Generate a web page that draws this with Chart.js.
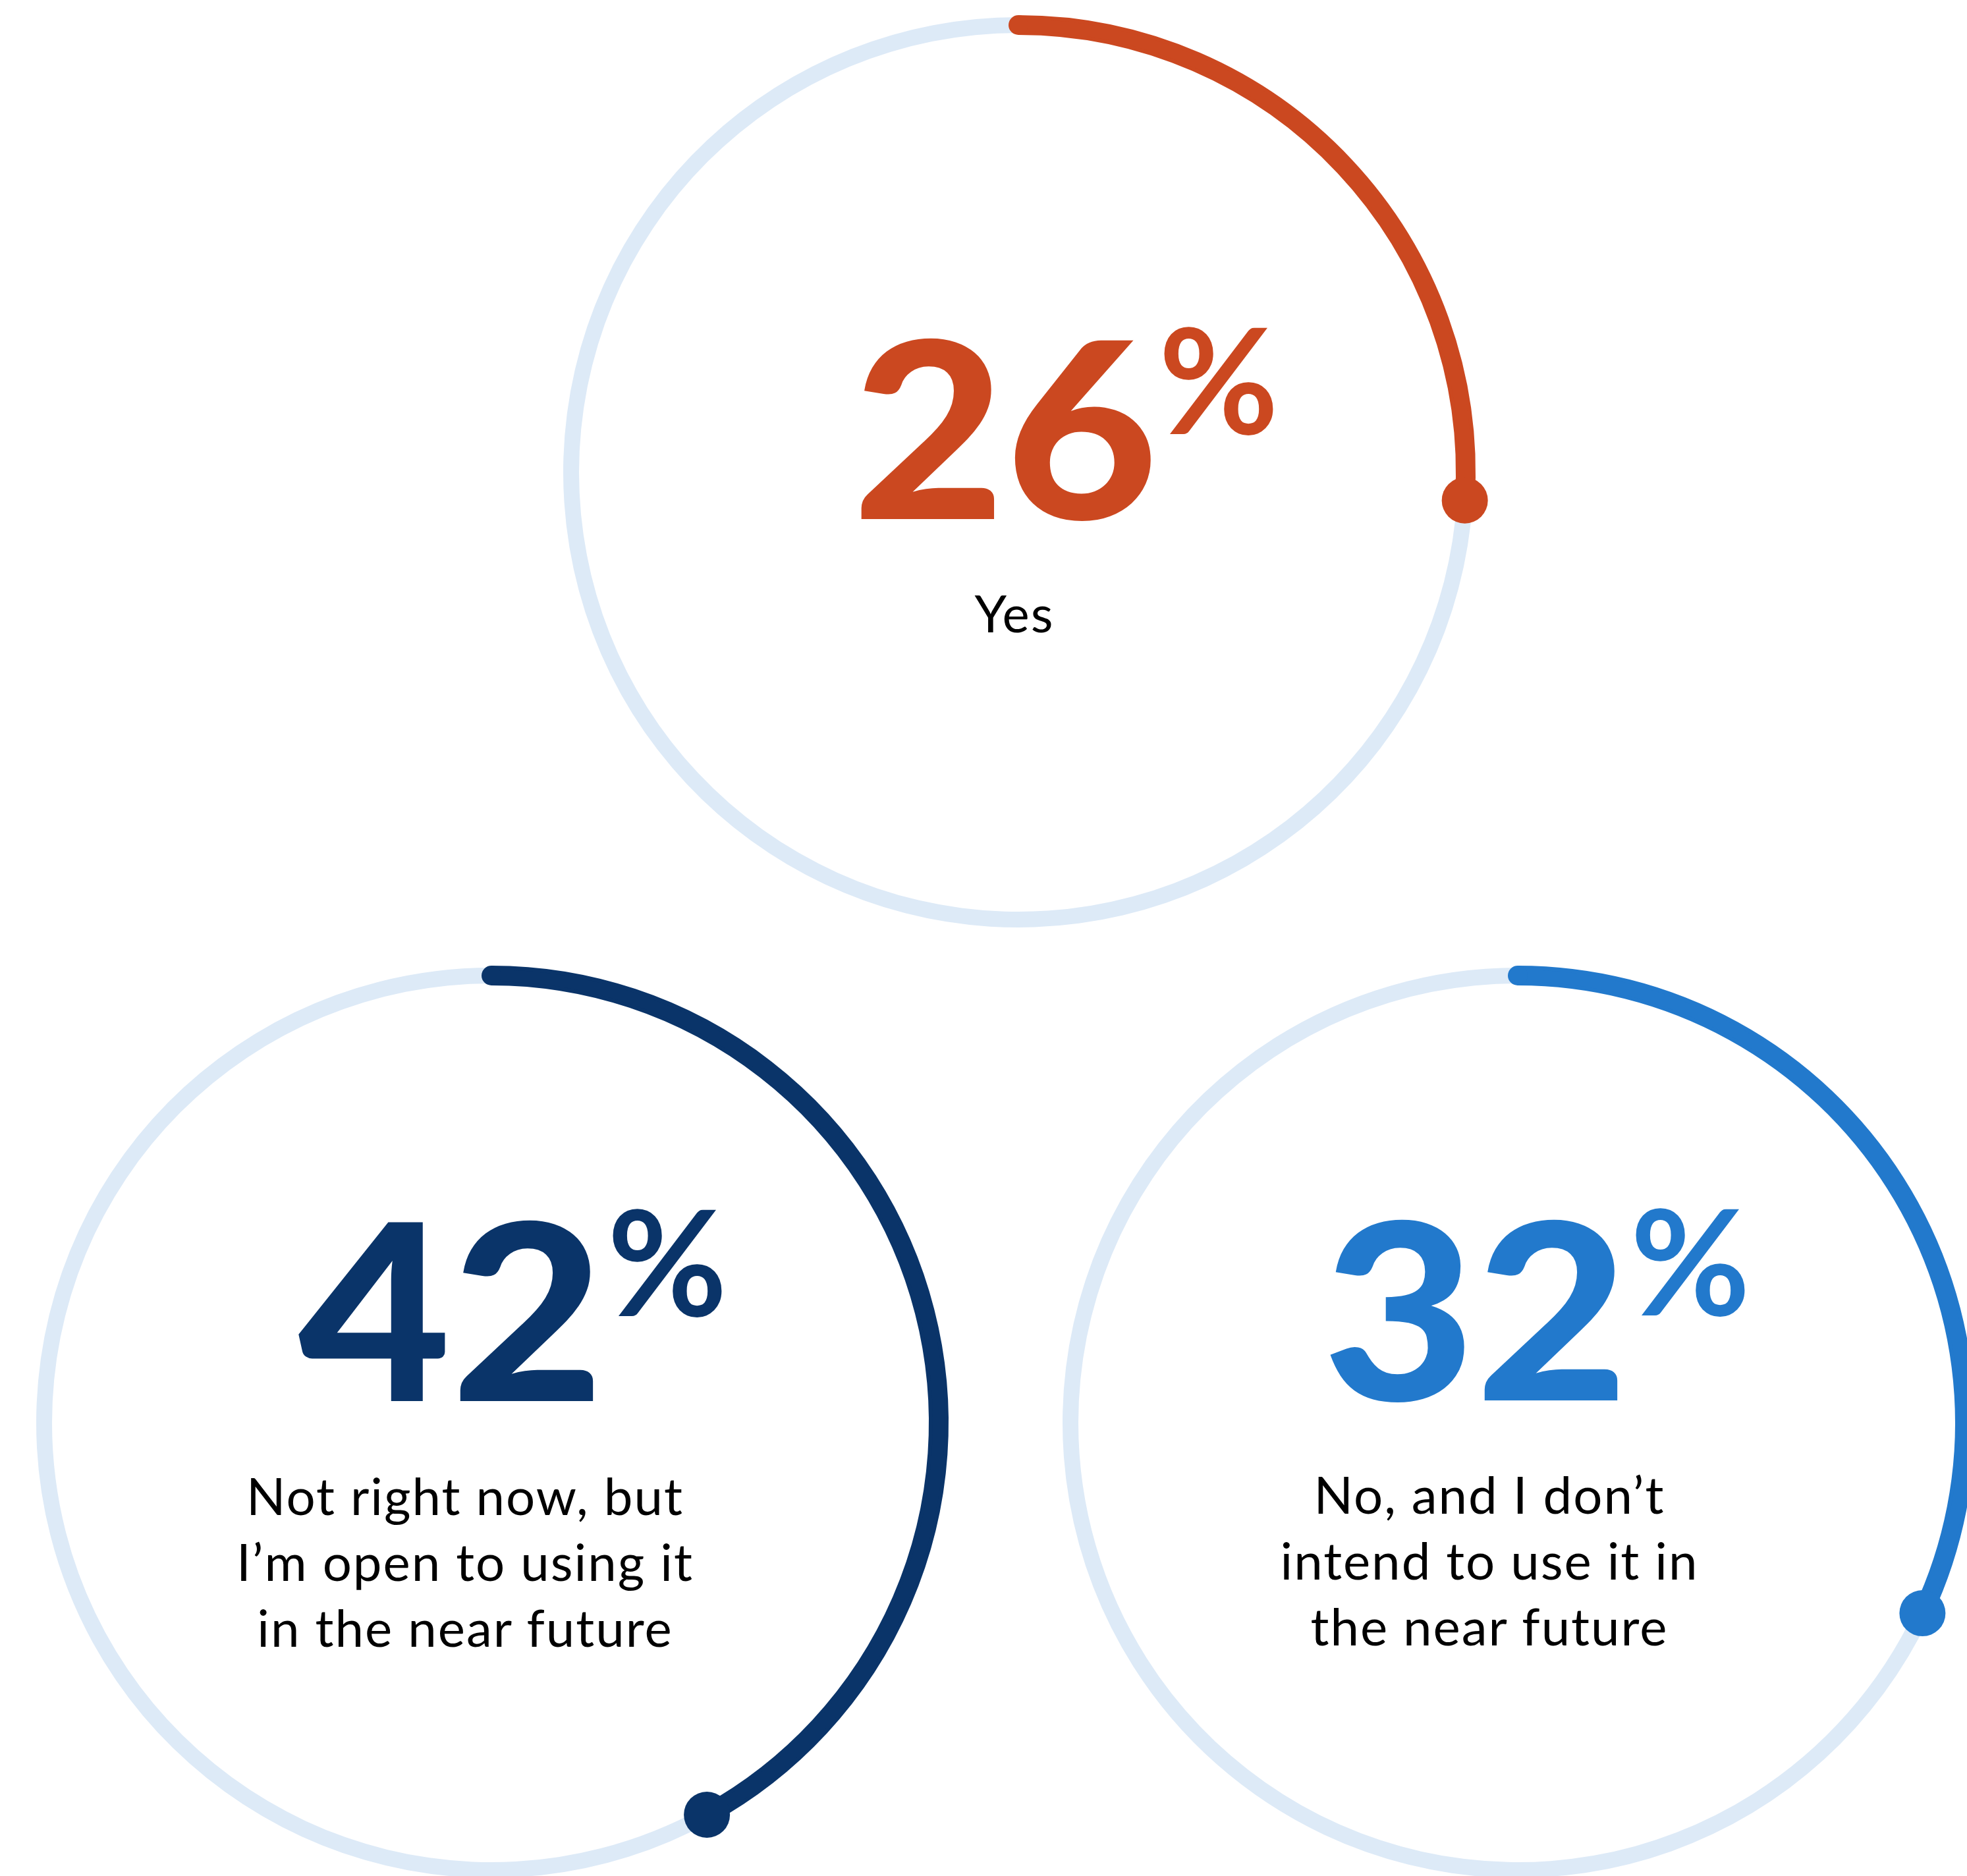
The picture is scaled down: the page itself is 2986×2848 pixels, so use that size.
<!DOCTYPE html>
<html>
<head>
<meta charset="utf-8">
<title>Usage rings</title>
<script src="https://cdn.jsdelivr.net/npm/chart.js@4.4.1/dist/chart.umd.min.js"></script>
<style>
html, body { margin: 0; padding: 0; width: 2986px; height: 2848px; overflow: hidden; background: #fff; }
.ring { position: absolute; width: 1440px; height: 1440px; }
.num { position: absolute; width: 1000px; text-align: center; font-family: Lato, sans-serif; font-weight: 900; font-size: 374px; line-height: 1; white-space: nowrap; transform: scaleX(1.07); transform-origin: 50% 50%; }
.pct { position: absolute; font-family: Lato, sans-serif; font-weight: 700; font-size: 222px; line-height: 1; white-space: nowrap; }
.lbl { position: absolute; width: 1000px; text-align: center; font-family: Lato, sans-serif; font-size: 78px; letter-spacing: 2px; line-height: 100px; color: #000; white-space: nowrap; }
</style>
</head>
<body>
<script>
// answers and their shares (%)
const answers = [
    "Yes",
    "Not right now, but I’m open to using it in the near future",
    "No, and I don’t intend to use it in the near future"
];
const labelLines = [
    ["Yes"],
    ["Not right now, but", "I’m open to using it", "in the near future"],
    ["No, and I don’t", "intend to use it in", "the near future"]
];
const shares = [26, 42, 32];

const colors = ["#CB4820", "#0A3469", "#2279CC"];
const track = "#DDEAF7";

// where each ring and its texts sit on the page
const layout = [
    { cx: 1546, cy: 717,  numX: 1526, numBase: 789,  pctX: 1759, pctBase: 659,  lblX: 1540, lblBase: 960 },
    { cx: 746,  cy: 2160, numX: 685,  numBase: 2128, pctX: 922,  pctBase: 1998, lblX: 706,  lblBase: 2300 },
    { cx: 2304, cy: 2160, numX: 2240, numBase: 2127, pctX: 2475, pctBase: 1997, lblX: 2261, lblBase: 2298 }
];

// round start cap and end dot on the coloured arc
const capPlugin = {
    id: 'caps',
    afterDatasetsDraw(chart) {
        const arc = chart.getDatasetMeta(0).data[0];
        const p = arc.getProps(['x', 'y', 'startAngle', 'endAngle', 'innerRadius', 'outerRadius'], true);
        const r = (p.innerRadius + p.outerRadius) / 2;
        const ctx = chart.ctx;
        ctx.save();
        ctx.fillStyle = chart.data.datasets[0].backgroundColor[0];
        ctx.beginPath();
        ctx.arc(p.x + r * Math.cos(p.startAngle), p.y + r * Math.sin(p.startAngle), 15, 0, Math.PI * 2);
        ctx.fill();
        ctx.beginPath();
        ctx.arc(p.x + r * Math.cos(p.endAngle), p.y + r * Math.sin(p.endAngle), 35, 0, Math.PI * 2);
        ctx.fill();
        ctx.restore();
    }
};

for (let i = 0; i < shares.length; i++)
{
    const L = layout[i];

    const canvas = document.createElement("canvas");
    canvas.className = "ring";
    canvas.width = 1440;
    canvas.height = 1440;
    canvas.style.left = (L.cx - 720) + "px";
    canvas.style.top = (L.cy - 720) + "px";
    document.body.appendChild(canvas);

    new Chart(canvas, {
        type: 'doughnut',
        data: {
            labels: [answers[i], "Other"],
            datasets: [{
                data: [shares[i], 100 - shares[i]],
                backgroundColor: [colors[i], track],
                borderColor: [colors[i], track],
                borderWidth: [6, 0],
                hoverBorderWidth: [6, 0],
                offset: 0,
                hoverOffset: 0
            }]
        },
        options: {
            responsive: false,
            animation: false,
            events: [],
            cutout: 667,
            layout: { padding: 26 },
            plugins: { legend: { display: false }, tooltip: { enabled: false } }
        },
        plugins: [capPlugin]
    });

    // big number
    const num = document.createElement("div");
    num.className = "num";
    num.style.color = colors[i];
    num.style.left = (L.numX - 500) + "px";
    num.style.top = (L.numBase - 0.887 * 374) + "px";
    num.textContent = String(shares[i]);
    document.body.appendChild(num);

    const pct = document.createElement("div");
    pct.className = "pct";
    pct.style.color = colors[i];
    pct.style.left = L.pctX + "px";
    pct.style.top = (L.pctBase - 0.887 * 222) + "px";
    pct.textContent = "%";
    document.body.appendChild(pct);

    // answer text
    const lbl = document.createElement("div");
    lbl.className = "lbl";
    lbl.style.left = (L.lblX - 500) + "px";
    lbl.style.top = (L.lblBase - 80) + "px";
    lbl.innerHTML = labelLines[i].join("<br>");
    document.body.appendChild(lbl);
}
</script>
</body>
</html>
